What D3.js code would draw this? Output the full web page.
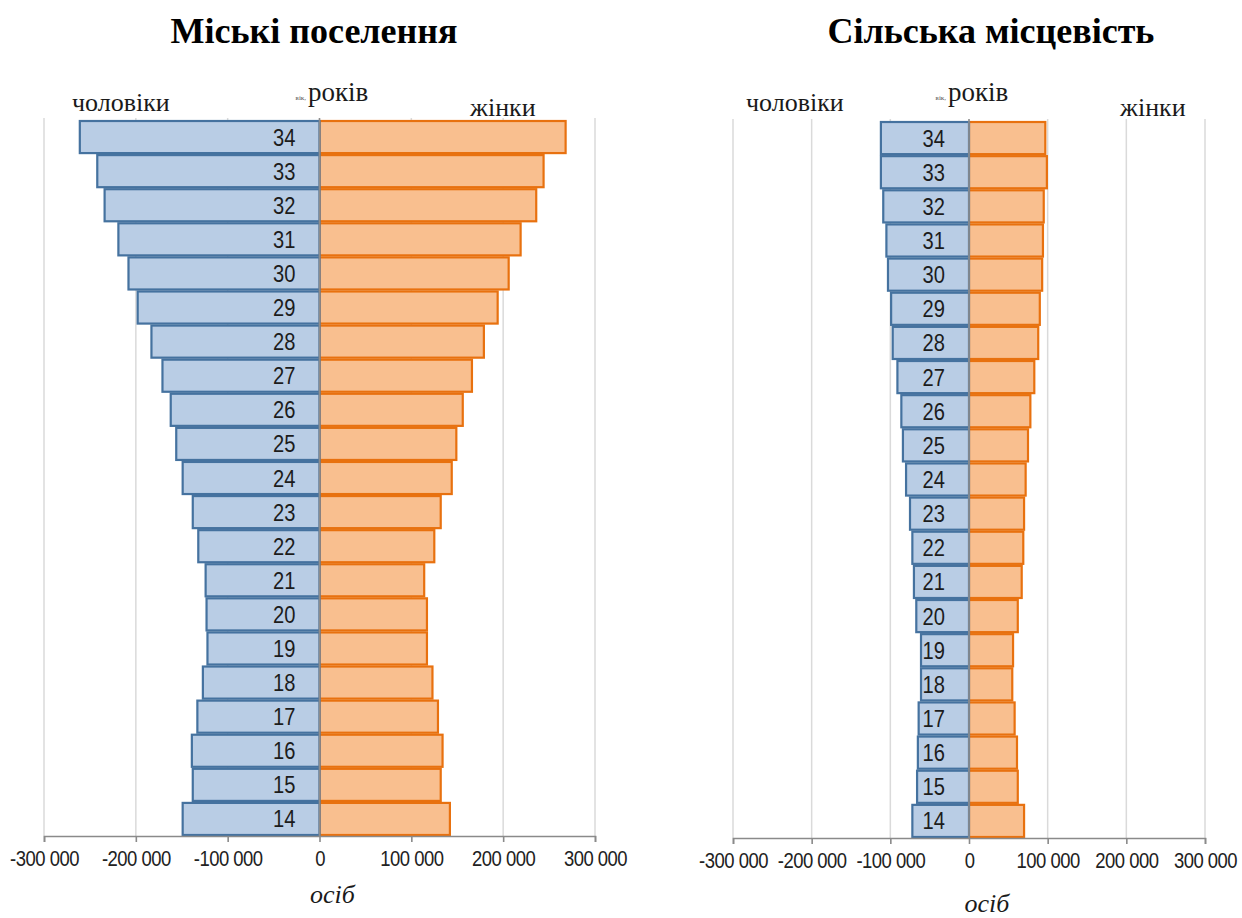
<!DOCTYPE html>
<html>
<head>
<meta charset="utf-8">
<script src="https://cdn.jsdelivr.net/npm/d3@7"></script>
<style>
  html, body { margin: 0; padding: 0; background: #ffffff; }
  svg { display: block; }
</style>
</head>
<body>
<svg id="chart" width="1242" height="918"></svg>
<script>
// Age groups, oldest at the top
const ages = [34, 33, 32, 31, 30, 29, 28, 27, 26, 25, 24, 23, 22, 21, 20, 19, 18, 17, 16, 15, 14];

// Urban settlements, persons
const urbanMen   = [261000, 242000, 234000, 219000, 208000, 198000, 183000, 171000, 162000, 156000, 149000,
                    138000, 132000, 124000, 123000, 122000, 127000, 133000, 139000, 138000, 149000];
const urbanWomen = [268000, 244000, 236000, 219000, 206000, 194000, 179000, 166000, 156000, 149000, 144000,
                    132000, 125000, 114000, 117000, 117000, 123000, 129000, 134000, 132000, 142000];

// Rural areas, persons
const ruralMen   = [112000, 112000, 109000, 105000, 103000, 99000, 97000, 91000, 86000, 84000, 80000,
                    75000, 72000, 70000, 67000, 61000, 61000, 64000, 65000, 66000, 72000];
const ruralWomen = [97000, 99000, 95000, 94000, 93000, 90000, 88000, 83000, 78000, 75000, 72000,
                    70000, 69000, 67000, 62000, 56000, 55000, 58000, 61000, 62000, 70000];

const tickValues = [-300000, -200000, -100000, 0, 100000, 200000, 300000];

const titles = ["Міські поселення", "Сільська місцевість"];
const menLabel = "чоловіки";
const womenLabel = "жінки";
const ageLabel = "років";
const ageNote = "вік,";
const unitLabel = "осіб";

const svg = d3.select("#chart");

const fmt = d3.formatLocale({
  decimal: ",", thousands: " ", grouping: [3], currency: ["", ""], minus: "-"
}).format(",d");

const COL = {
  menFill: "#b9cde5", menStroke: "#45729f",
  womenFill: "#f9bf8f", womenStroke: "#e8710f",
  grid: "#dadada", axis: "#8a8a8a", center: "#8c8c8c", text: "#1c1c1c"
};
const NARROW = 0.84;
const SERIF = "Liberation Serif, Times New Roman, serif";
const SANS = "Liberation Sans, Arial, sans-serif";

function drawPanel(p) {
  const g = svg.append("g");

  const x = d3.scaleLinear().domain([-300000, 300000]).range([p.left, p.right]);
  const y = d3.scaleBand().domain(ages).range([p.top, p.bottom]).padding(0);

  // vertical gridlines
  g.append("g").selectAll("line").data(tickValues.filter(d => d !== 0)).join("line")
    .attr("x1", d => x(d)).attr("x2", d => x(d))
    .attr("y1", p.top - 2).attr("y2", p.bottom)
    .attr("stroke", COL.grid).attr("stroke-width", 1.5);

  const rows = ages.map((a, i) => ({ age: a, men: p.men[i], women: p.women[i] }));

  // women bars (right side)
  g.append("g").selectAll("rect").data(rows).join("rect")
    .attr("x", x(0))
    .attr("y", d => y(d.age) + 1)
    .attr("width", d => x(d.women) - x(0))
    .attr("height", y.bandwidth() - 2)
    .attr("fill", COL.womenFill)
    .attr("stroke", COL.womenStroke).attr("stroke-width", 2.2);

  // men bars (left side, drawn as negative values)
  g.append("g").selectAll("rect").data(rows).join("rect")
    .attr("x", d => x(-d.men))
    .attr("y", d => y(d.age) + 1)
    .attr("width", d => x(0) - x(-d.men))
    .attr("height", y.bandwidth() - 2)
    .attr("fill", COL.menFill)
    .attr("stroke", COL.menStroke).attr("stroke-width", 2.2);

  // centre line
  g.append("line")
    .attr("x1", x(0)).attr("x2", x(0))
    .attr("y1", p.top - 2).attr("y2", p.bottom)
    .attr("stroke", COL.center).attr("stroke-width", 1.6);

  // age labels inside the men bars, right-aligned near the centre line
  g.append("g").selectAll("text").data(rows).join("text")
    .attr("text-anchor", "end")
    .attr("font-family", SANS)
    .attr("font-size", 24)
    .attr("fill", COL.text)
    .attr("transform", d => `translate(${x(0) - 24},${y(d.age) + y.bandwidth() / 2 + 8.5}) scale(${NARROW},1)`)
    .text(d => d.age);

  // horizontal axis
  const ax = g.append("g")
    .attr("transform", `translate(0,${p.bottom})`)
    .call(d3.axisBottom(x).tickValues(tickValues).tickFormat(fmt).tickSize(6).tickPadding(8));
  ax.select(".domain").attr("stroke", COL.axis).attr("stroke-width", 1.6);
  ax.selectAll(".tick line").attr("stroke", COL.axis).attr("stroke-width", 1.6);
  ax.selectAll(".tick text")
    .attr("font-family", SANS)
    .attr("font-size", 22)
    .attr("fill", "#222")
    .attr("letter-spacing", -0.6)
    .attr("transform", `scale(${NARROW},1)`);

  // title
  g.append("text")
    .attr("x", p.titleX).attr("y", 43)
    .attr("text-anchor", "middle")
    .attr("font-family", SERIF)
    .attr("font-weight", "bold")
    .attr("font-size", 36)
    .attr("fill", "#000")
    .text(p.title);

  g.append("text").attr("x", p.menX).attr("y", 111)
    .attr("font-family", SERIF).attr("font-size", 26).attr("fill", "#1a1a1a").text(menLabel);
  g.append("text").attr("x", p.womenX).attr("y", 116)
    .attr("font-family", SERIF).attr("font-size", 26).attr("fill", "#1a1a1a").text(womenLabel);
  g.append("text").attr("x", p.ageX).attr("y", 101)
    .attr("font-family", SERIF).attr("font-size", 27).attr("fill", "#1a1a1a").text(ageLabel);
  g.append("text").attr("x", p.ageX - 2).attr("y", 100)
    .attr("text-anchor", "end")
    .attr("font-family", SERIF).attr("font-size", 7).attr("fill", "#555").text(ageNote);
  g.append("text").attr("x", x(0) + p.unitDx).attr("y", p.unitY)
    .attr("text-anchor", "middle")
    .attr("font-family", SERIF).attr("font-style", "italic").attr("font-size", 26)
    .attr("fill", "#1a1a1a").text(unitLabel);
}

drawPanel({
  title: titles[0], titleX: 314,
  left: 44, right: 595, top: 120, bottom: 836,
  men: urbanMen, women: urbanWomen,
  menX: 72, womenX: 470, ageX: 308, unitDx: 13, unitY: 903
});

drawPanel({
  title: titles[1], titleX: 991,
  left: 733, right: 1205, top: 121, bottom: 838,
  men: ruralMen, women: ruralWomen,
  menX: 746, womenX: 1120, ageX: 948, unitDx: 18, unitY: 912
});
</script>
</body>
</html>
